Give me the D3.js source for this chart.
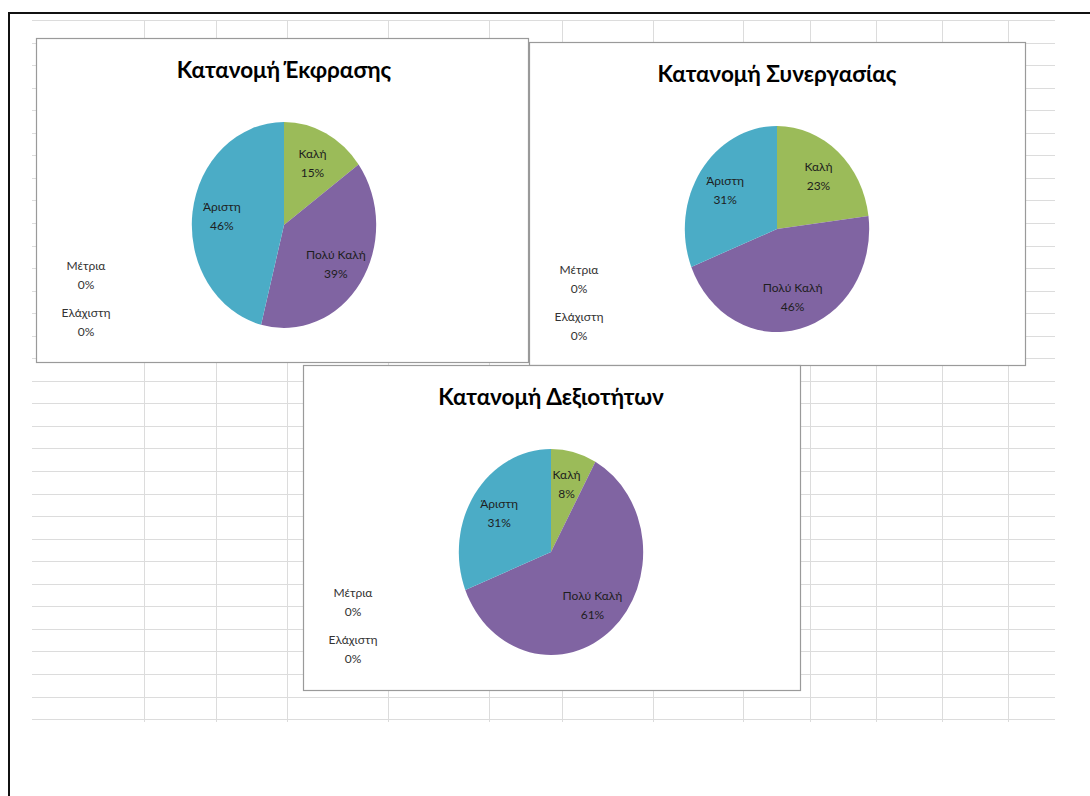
<!DOCTYPE html>
<html>
<head>
<meta charset="utf-8">
<script src="https://cdn.jsdelivr.net/npm/d3@7"></script>
<style>
  html, body { margin: 0; padding: 0; background: #fff; }
  svg { display: block; }
  text { font-family: Lato, "Noto Sans", sans-serif; }
</style>
</head>
<body>
<svg id="chart" width="1090" height="796"></svg>
<script>
// ---------- data ----------
const categories = ["Καλή", "Πολύ Καλή", "Άριστη", "Μέτρια", "Ελάχιστη"];
const chartTitles = ["Κατανομή Έκφρασης", "Κατανομή Συνεργασίας", "Κατανομή Δεξιοτήτων"];
const valuesExpression  = [15, 39, 46, 0, 0];
const valuesCooperation = [23, 46, 31, 0, 0];
const valuesSkills      = [8, 61, 31, 0, 0];
const sliceColors = ["#9BBB59", "#8064A2", "#4BACC6", "#F79646", "#C0504D"];

// ---------- layout ----------
const W = 1090, H = 796;
const svg = d3.select("#chart");
svg.append("rect").attr("width", W).attr("height", H).attr("fill", "#fff");

// spreadsheet grid behind the charts
const gridX0 = 32, gridX1 = 1055;
const colEdges = [144, 216, 287, 388, 489, 562, 653, 743, 810, 876, 942, 1008];
const rowStep = 22.55, rowFirst = 20, rowLast = 720;
const rowLines = d3.range(rowFirst, rowLast + 1, rowStep);
const grid = svg.append("g");
grid.selectAll("line.h").data(rowLines).join("line")
  .attr("x1", gridX0).attr("x2", gridX1)
  .attr("y1", d => Math.round(d) + 0.5).attr("y2", d => Math.round(d) + 0.5)
  .attr("stroke", "#dcdcdc").attr("stroke-width", 1);
grid.selectAll("line.v").data(colEdges).join("line")
  .attr("x1", d => d + 0.5).attr("x2", d => d + 0.5)
  .attr("y1", rowFirst).attr("y2", rowLast + 2)
  .attr("stroke", "#dcdcdc").attr("stroke-width", 1);

// outer frame
svg.append("path")
  .attr("d", `M9,796 L9,13 L1090,13`)
  .attr("fill", "none").attr("stroke", "#111").attr("stroke-width", 2);

// chart boxes (drawn in z-order: 2, 1, 3)
const boxes = [
  { x: 36,  y: 38,  w: 492, h: 324 },
  { x: 529, y: 42,  w: 496, h: 323 },
  { x: 303, y: 365, w: 497, h: 325 }
];
const datasets = [valuesExpression, valuesCooperation, valuesSkills];
const drawOrder = [1, 0, 2];

const R = 103;          // pie radius (vertical)
const xSquash = 0.895;  // horizontal stretch of the original screenshot
const pieCx = 248, pieCy = 187;

const pie = d3.pie().sort(null).value(d => d.value);
const arc = d3.arc().innerRadius(0).outerRadius(R);
const labelArc = d3.arc().innerRadius(R * 0.68).outerRadius(R * 0.68);

drawOrder.forEach(i => {
  const b = boxes[i];
  const g = svg.append("g").attr("transform", `translate(${b.x},${b.y})`);
  g.append("rect")
    .attr("x", 0.5).attr("y", 0.5).attr("width", b.w).attr("height", b.h)
    .attr("fill", "#fff").attr("stroke", "#9a9a9a").attr("stroke-width", 1.2);

  g.append("text")
    .attr("x", pieCx).attr("y", 40)
    .attr("text-anchor", "middle")
    .attr("font-size", 22.5).attr("font-weight", "bold").attr("fill", "#000")
    .text(chartTitles[i]);

  const data = categories.map((c, k) => ({ cat: c, value: datasets[i][k], color: sliceColors[k] }));
  const arcs = pie(data);

  const pg = g.append("g").attr("transform", `translate(${pieCx},${pieCy}) scale(${xSquash},1)`);
  pg.selectAll("path").data(arcs.filter(a => a.data.value > 0)).join("path")
    .attr("d", arc).attr("fill", d => d.data.color);

  // labels for non-zero slices
  const lg = g.append("g").attr("transform", `translate(${pieCx},${pieCy})`);
  arcs.filter(a => a.data.value > 0).forEach(a => {
    const [cx, cy] = labelArc.centroid(a);
    const t = lg.append("text")
      .attr("x", cx * xSquash).attr("y", cy)
      .attr("text-anchor", "middle").attr("font-size", 12).attr("fill", "#1e1e1e");
    t.append("tspan").attr("x", cx * xSquash).attr("dy", -5).text(a.data.cat);
    t.append("tspan").attr("x", cx * xSquash).attr("dy", 19).text(a.data.value + "%");
  });

  // labels for zero slices, stacked on the left
  const zeroArcs = arcs.filter(a => a.data.value === 0);
  zeroArcs.forEach((a, k) => {
    const t = g.append("text")
      .attr("x", 50).attr("y", 232 + k * 47)
      .attr("text-anchor", "middle").attr("font-size", 12).attr("fill", "#333");
    t.append("tspan").attr("x", 50).attr("dy", 0).text(a.data.cat);
    t.append("tspan").attr("x", 50).attr("dy", 19).text(a.data.value + "%");
  });
});
</script>
</body>
</html>
